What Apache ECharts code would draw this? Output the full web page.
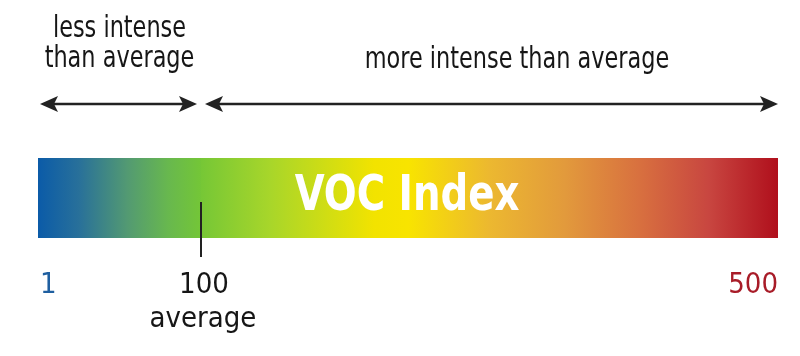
<!DOCTYPE html>
<html><head><meta charset="utf-8">
<script src="https://cdn.jsdelivr.net/npm/echarts@6/dist/echarts.min.js"></script>
<style>html,body{margin:0;padding:0;background:#fff}#c{width:800px;height:356px}</style>
</head><body><div id="c"></div>
<script>
// ---- data ----
const indexMin = 1;
const indexAverage = 100;
const indexMax = 500;
const segmentStarts = [1, 100];
const segmentEnds = [100, 500];
const segmentLabels = ['less intense\nthan average', 'more intense than average'];
const barTitle = 'VOC Index';
const averageLabel = 'average';
const tickLabelsLeft = [indexMin];
const tickLabelsRight = [indexAverage, indexMax];

// ---- styling ----
const FONT = '"Liberation Sans Narrow","DejaVu Sans Condensed","Liberation Sans",sans-serif';
const TXT = '#161616';
const chart = echarts.init(document.getElementById('c'), null, {renderer: 'canvas'});

const gradLeft = new echarts.graphic.LinearGradient(0, 0, 1, 0, [
  {offset: 0, color: '#0b5ba8'},
  {offset: 0.25, color: '#28709a'},
  {offset: 0.55, color: '#539a72'},
  {offset: 0.8, color: '#68b84e'},
  {offset: 1, color: '#74c637'}
]);
const gradRight = new echarts.graphic.LinearGradient(0, 0, 1, 0, [
  {offset: 0, color: '#76c736'},
  {offset: 0.12, color: '#a8d62a'},
  {offset: 0.3, color: '#f2e300'},
  {offset: 0.36, color: '#f8e400'},
  {offset: 0.5, color: '#ecb830'},
  {offset: 0.63, color: '#e29a3c'},
  {offset: 0.76, color: '#d8703f'},
  {offset: 0.88, color: '#c84640'},
  {offset: 1, color: '#b00f1c'}
]);

const hiddenAxisBits = {splitLine: {show: false}, axisLine: {show: false}, axisTick: {show: false}};
const LBL = 29;

const option = {
  animation: false,
  backgroundColor: '#fff',
  grid: [
    {left: 38, width: 163, top: 158, height: 80},
    {left: 201, width: 577, top: 158, height: 80}
  ],
  xAxis: [
    Object.assign({type: 'value', gridIndex: 0, min: segmentStarts[0], max: segmentEnds[0],
      axisLabel: {customValues: tickLabelsLeft, align: 'left', margin: 30, lineHeight: 34,
        fontFamily: FONT, fontSize: LBL, color: '#1f5fa0', padding: [0, 0, 0, 2], formatter: v => String(v)}}, hiddenAxisBits),
    Object.assign({type: 'value', gridIndex: 1, min: segmentStarts[1], max: segmentEnds[1],
      axisLabel: {customValues: tickLabelsRight, margin: 30, alignMaxLabel: 'right',
        fontFamily: FONT, fontSize: LBL, color: TXT,
        formatter: v => v === indexAverage ? '{avg|' + v + '}\n{sub|' + averageLabel + '}' : '{max|' + v + '}',
        rich: {
          avg: {fontFamily: FONT, fontSize: LBL, color: TXT, lineHeight: 34, padding: [0, 0, 0, 6]},
          sub: {fontFamily: FONT, fontSize: LBL, color: TXT, lineHeight: 34, padding: [0, 0, 0, 4]},
          max: {fontFamily: FONT, fontSize: LBL, color: '#a81c28', lineHeight: 34}
        }}}, hiddenAxisBits)
  ],
  yAxis: [
    {type: 'category', gridIndex: 0, data: [barTitle], show: false},
    {type: 'category', gridIndex: 1, data: [barTitle], show: false}
  ],
  series: [
    {type: 'bar', xAxisIndex: 0, yAxisIndex: 0, data: [segmentEnds[0]], barWidth: '100%', clip: true,
      itemStyle: {color: gradLeft}},
    {type: 'bar', xAxisIndex: 1, yAxisIndex: 1, data: [segmentEnds[1]], barWidth: '100%', clip: true,
      itemStyle: {color: gradRight}}
  ]
};
chart.setOption(option);

// annotations positioned from the axes
const px = (ai, v) => chart.convertToPixel({xAxisIndex: ai}, v);
const xL0 = px(0, segmentStarts[0]);
const xMid = px(1, indexAverage);
const xR1 = px(1, segmentEnds[1]);
const arrowY = 104;

function arrow(x1, x2, y) {
  const L = 18, H = 8, notch = 4;
  return [
    {type: 'line', shape: {x1: x1 + 8, y1: y, x2: x2 - 8, y2: y}, style: {stroke: '#222', lineWidth: 2.5}},
    {type: 'polygon', shape: {points: [[x1, y], [x1 + L, y - H], [x1 + L - notch, y], [x1 + L, y + H]]}, style: {fill: '#222'}},
    {type: 'polygon', shape: {points: [[x2, y], [x2 - L, y - H], [x2 - L + notch, y], [x2 - L, y + H]]}, style: {fill: '#222'}}
  ];
}

const graphics = [].concat(
  arrow(xL0 + 2, xMid - 4, arrowY),
  arrow(xMid + 4, xR1, arrowY),
  [
    {type: 'text', x: (xL0 + xMid) / 2, y: 44, scaleX: 0.83, style: {text: segmentLabels[0], fill: TXT,
      font: '30px ' + FONT, align: 'center', verticalAlign: 'middle', lineHeight: 30}},
    {type: 'text', x: 517, y: 60, scaleX: 0.83, style: {text: segmentLabels[1], fill: TXT,
      font: '30px ' + FONT, align: 'center', verticalAlign: 'middle'}},
    {type: 'text', x: 407, y: 197, z: 10, scaleX: 0.86, style: {text: barTitle, fill: '#fff',
      font: 'bold 50px ' + FONT, align: 'center', verticalAlign: 'middle'}},
    {type: 'line', z: 10, shape: {x1: xMid, y1: 202, x2: xMid, y2: 257}, style: {stroke: '#222', lineWidth: 2}}
  ]
);
chart.setOption({graphic: graphics});
</script></body></html>
